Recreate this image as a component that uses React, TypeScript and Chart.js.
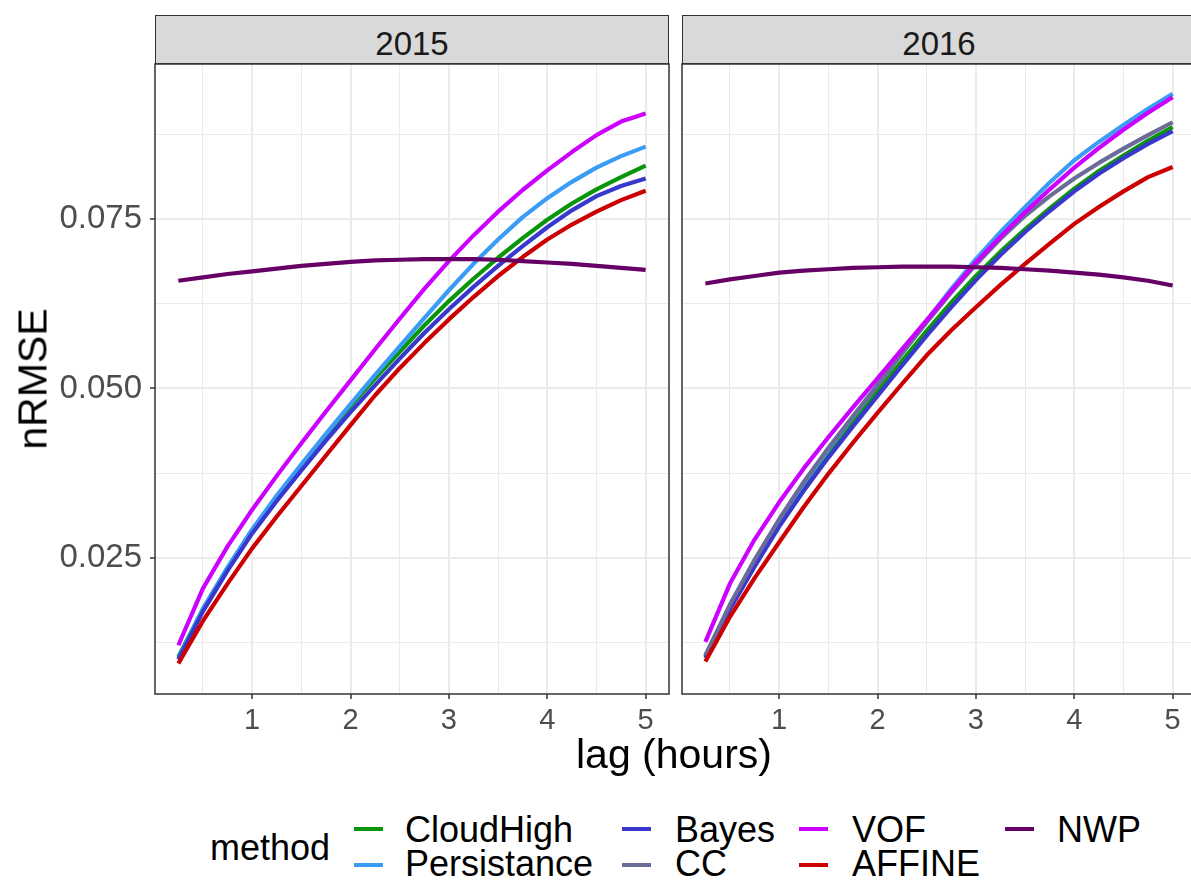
import React, { useEffect, useRef } from "react";
import { Chart, registerables } from "chart.js";

Chart.register(...registerables);

// ---------------- data ----------------
const lags = [0.25, 0.5, 0.75, 1, 1.25, 1.5, 1.75, 2, 2.25, 2.5, 2.75, 3, 3.25, 3.5, 3.75, 4, 4.25, 4.5, 4.75, 5];

const methods = ["CloudHigh", "Persistance", "Bayes", "CC", "VOF", "AFFINE", "NWP"];
const methodColors = ["#0A960A", "#3A9CF5", "#3838CC", "#6B6B99", "#CC00FF", "#CC0000", "#660066"];

const years = ["2015", "2016"];

// 2015
const cloudHigh2015 = [0.0104, 0.0174, 0.0235, 0.0290, 0.0339, 0.0385, 0.0430, 0.0474, 0.0515, 0.0554, 0.0593, 0.0629, 0.0662, 0.0693, 0.0722, 0.0749, 0.0773, 0.0794, 0.0812, 0.0829];
const persistance2015 = [0.0102, 0.0175, 0.0236, 0.0292, 0.0342, 0.0388, 0.0433, 0.0477, 0.0520, 0.0562, 0.0604, 0.0645, 0.0684, 0.0720, 0.0753, 0.0781, 0.0805, 0.0826, 0.0843, 0.0857];
const bayes2015 = [0.0100, 0.0171, 0.0231, 0.0286, 0.0334, 0.0379, 0.0423, 0.0465, 0.0505, 0.0544, 0.0582, 0.0617, 0.0650, 0.0681, 0.0710, 0.0738, 0.0763, 0.0784, 0.0799, 0.0810];
const cc2015: number[] = [];
const vof2015 = [0.0121, 0.0205, 0.0267, 0.0321, 0.0371, 0.0419, 0.0466, 0.0512, 0.0558, 0.0603, 0.0647, 0.0688, 0.0726, 0.0761, 0.0793, 0.0822, 0.0849, 0.0874, 0.0894, 0.0906];
const affine2015 = [0.0094, 0.0157, 0.0212, 0.0264, 0.0311, 0.0356, 0.0401, 0.0446, 0.0490, 0.0530, 0.0567, 0.0602, 0.0635, 0.0666, 0.0694, 0.0720, 0.0742, 0.0761, 0.0778, 0.0792];
const nwp2015 = [0.0659, 0.0664, 0.0669, 0.0673, 0.0677, 0.0681, 0.0684, 0.0687, 0.0689, 0.0690, 0.0691, 0.0691, 0.0691, 0.0690, 0.0688, 0.0686, 0.0684, 0.0681, 0.0678, 0.0675];

// 2016
const cloudHigh2016 = [0.0104, 0.0177, 0.0241, 0.0300, 0.0354, 0.0403, 0.0450, 0.0496, 0.0541, 0.0585, 0.0627, 0.0666, 0.0702, 0.0735, 0.0766, 0.0795, 0.0821, 0.0844, 0.0866, 0.0886];
const persistance2016 = [0.0106, 0.0179, 0.0244, 0.0305, 0.0360, 0.0410, 0.0458, 0.0505, 0.0552, 0.0600, 0.0647, 0.0691, 0.0731, 0.0768, 0.0804, 0.0837, 0.0864, 0.0889, 0.0913, 0.0935];
const bayes2016 = [0.0102, 0.0174, 0.0237, 0.0296, 0.0349, 0.0398, 0.0444, 0.0489, 0.0534, 0.0578, 0.0620, 0.0660, 0.0697, 0.0731, 0.0762, 0.0791, 0.0817, 0.0840, 0.0861, 0.0880];
const cc2016 = [0.0106, 0.0181, 0.0247, 0.0307, 0.0362, 0.0412, 0.0459, 0.0505, 0.0552, 0.0598, 0.0642, 0.0683, 0.0721, 0.0755, 0.0784, 0.0810, 0.0833, 0.0854, 0.0874, 0.0893];
const vof2016 = [0.0126, 0.0212, 0.0277, 0.0332, 0.0382, 0.0428, 0.0472, 0.0515, 0.0558, 0.0601, 0.0644, 0.0686, 0.0724, 0.0760, 0.0794, 0.0826, 0.0855, 0.0882, 0.0907, 0.0930];
const affine2016 = [0.0097, 0.0163, 0.0220, 0.0273, 0.0325, 0.0374, 0.0420, 0.0464, 0.0507, 0.0549, 0.0586, 0.0620, 0.0653, 0.0684, 0.0714, 0.0743, 0.0768, 0.0791, 0.0812, 0.0827];
const nwp2016 = [0.0655, 0.0661, 0.0666, 0.0671, 0.0674, 0.0676, 0.0678, 0.0679, 0.0680, 0.0680, 0.0680, 0.0679, 0.0678, 0.0676, 0.0674, 0.0671, 0.0668, 0.0664, 0.0659, 0.0652];

const series2015 = [cloudHigh2015, persistance2015, bayes2015, cc2015, vof2015, affine2015, nwp2015];
const series2016 = [cloudHigh2016, persistance2016, bayes2016, cc2016, vof2016, affine2016, nwp2016];

const xTickValues = [0.5, 1, 1.5, 2, 2.5, 3, 3.5, 4, 4.5, 5];
const yTickValues = [0.0125, 0.025, 0.0375, 0.05, 0.0625, 0.075, 0.0875];

const X_MIN = 0.0125;
const X_MAX = 5.2375;
const Y_MIN = 0.0049;
const Y_MAX = 0.0979;

// ---------------- helpers ----------------
const FONT = "'Liberation Sans', Arial, Helvetica, sans-serif";

const isMajorX = (v: any) => typeof v === "number" && Math.abs(v - Math.round(v)) < 1e-6;
const isMajorY = (v: any) =>
  typeof v === "number" && Math.abs(v / 0.025 - Math.round(v / 0.025)) < 1e-6;

const panelBorder = {
  id: "panelBorder",
  afterDraw(chart: any) {
    const { ctx, chartArea } = chart;
    ctx.save();
    ctx.strokeStyle = "#333333";
    ctx.lineWidth = 1.5;
    ctx.strokeRect(chartArea.left, chartArea.top, chartArea.right - chartArea.left, chartArea.bottom - chartArea.top);
    ctx.restore();
  },
};

type PanelProps = {
  series: number[][];
  showY: boolean;
  left: number;
  top: number;
  width: number;
  height: number;
  padLeft: number;
};

function Panel({ series, showY, left, top, width, height, padLeft }: PanelProps) {
  const ref = useRef<HTMLCanvasElement | null>(null);

  useEffect(() => {
    if (!ref.current) return;
    const datasets = methods.map((m, i) => ({
      label: m,
      data: series[i].map((v, j) => ({ x: lags[j], y: v })),
      borderColor: methodColors[i],
      backgroundColor: methodColors[i],
      borderWidth: 4.2,
      pointRadius: 0,
      tension: 0,
      fill: false,
      borderCapStyle: "butt" as const,
      borderJoinStyle: "round" as const,
      order: methods.length - i,
    }));

    const chart = new Chart(ref.current, {
      type: "line",
      data: { datasets },
      options: {
        responsive: false,
        animation: false,
        events: [],
        layout: { padding: { left: padLeft, top: 10, right: 10, bottom: 0 } },
        plugins: { legend: { display: false }, tooltip: { enabled: false } },
        scales: {
          x: {
            type: "linear",
            min: X_MIN,
            max: X_MAX,
            afterBuildTicks: (s: any) => {
              s.ticks = xTickValues.map((v) => ({ value: v }));
            },
            afterFit: (s: any) => {
              s.height = 40;
              s.paddingLeft = 0;
              s.paddingRight = 0;
            },
            ticks: {
              autoSkip: false,
              maxRotation: 0,
              minRotation: 0,
              padding: 5,
              color: "#4D4D4D",
              font: { family: FONT, size: 29 },
              callback: (v: any) => (isMajorX(v) ? String(Math.round(v)) : ""),
            },
            grid: {
              color: "#EBEBEB",
              lineWidth: (c: any) => (c.tick && isMajorX(c.tick.value) ? 2 : 1),
              tickColor: (c: any) => (c.tick && isMajorX(c.tick.value) ? "#333333" : "rgba(0,0,0,0)"),
              tickLength: 5,
              tickWidth: 1.5,
            },
            border: { display: false },
          },
          y: {
            type: "linear",
            min: Y_MIN,
            max: Y_MAX,
            afterBuildTicks: (s: any) => {
              s.ticks = yTickValues.map((v) => ({ value: v }));
            },
            afterFit: (s: any) => {
              s.width = showY ? 155 : 0;
              s.paddingTop = 0;
              s.paddingBottom = 0;
            },
            ticks: {
              display: showY,
              autoSkip: false,
              padding: 8,
              color: "#4D4D4D",
              font: { family: FONT, size: 33 },
              callback: (v: any) => (isMajorY(v) ? Number(v).toFixed(3) : ""),
            },
            grid: {
              color: "#EBEBEB",
              lineWidth: (c: any) => (c.tick && isMajorY(c.tick.value) ? 2 : 1),
              drawTicks: showY,
              tickColor: (c: any) => (c.tick && isMajorY(c.tick.value) ? "#333333" : "rgba(0,0,0,0)"),
              tickLength: 5,
              tickWidth: 1.5,
            },
            border: { display: false },
          },
        },
      },
      plugins: [panelBorder],
    });
    return () => chart.destroy();
  }, [series, showY, padLeft]);

  return (
    <canvas
      ref={ref}
      width={width}
      height={height}
      style={{ position: "absolute", left, top, width, height }}
    />
  );
}

type TxtProps = {
  x: number;
  baseline: number;
  size: number;
  color?: string;
  center?: boolean;
  children: React.ReactNode;
};

function Txt({ x, baseline, size, color = "#000", center, children }: TxtProps) {
  return (
    <div
      style={{
        position: "absolute",
        left: x,
        top: baseline - 0.8465 * size,
        fontSize: size,
        lineHeight: `${size}px`,
        fontFamily: FONT,
        color,
        whiteSpace: "nowrap",
        transform: center ? "translateX(-50%)" : undefined,
      }}
    >
      {children}
    </div>
  );
}

function Strip({ left, label }: { left: number; label: string }) {
  return (
    <div
      style={{
        position: "absolute",
        left,
        top: 15,
        width: 514,
        height: 49,
        boxSizing: "border-box",
        background: "#D9D9D9",
        border: "1.5px solid #333333",
      }}
    >
      <div
        style={{
          position: "absolute",
          left: 0,
          right: 0,
          top: 40 - 0.8465 * 33 - 1.5,
          textAlign: "center",
          fontSize: 33,
          lineHeight: "33px",
          fontFamily: FONT,
          color: "#1A1A1A",
        }}
      >
        {label}
      </div>
    </div>
  );
}

// legend layout: column x positions (key left, label left) and row centres
const legendCols = [
  { key: 354, text: 405 },
  { key: 622, text: 675 },
  { key: 799, text: 852 },
  { key: 1005, text: 1057 },
];
const legendRows = [
  { key: 828.5, base: 842 },
  { key: 865, base: 876 },
];

export default function App() {
  useEffect(() => {
    document.body.style.margin = "0";
  }, []);

  return (
    <div
      style={{
        position: "fixed",
        left: 0,
        top: 0,
        width: 1191,
        height: 882,
        overflow: "hidden",
        background: "#FFFFFF",
      }}
    >
      <Strip left={155} label={years[0]} />
      <Strip left={682} label={years[1]} />

      <Panel series={series2015} showY={true} left={0} top={54} width={679} height={680} padLeft={0} />
      <Panel series={series2016} showY={false} left={672} top={54} width={534} height={680} padLeft={10} />

      {/* y axis title */}
      <div
        style={{
          position: "absolute",
          left: 32.5,
          top: 379,
          fontSize: 41,
          lineHeight: "41px",
          fontFamily: FONT,
          color: "#000",
          whiteSpace: "nowrap",
          transform: "translate(-50%, -50%) rotate(-90deg)",
        }}
      >
        nRMSE
      </div>

      {/* x axis title */}
      <Txt x={674} baseline={769} size={41} center>
        lag (hours)
      </Txt>

      {/* legend */}
      <Txt x={210} baseline={860} size={36}>
        method
      </Txt>
      {methods.map((m, i) => {
        const col = legendCols[Math.floor(i / 2)];
        const row = legendRows[i % 2];
        return (
          <React.Fragment key={m}>
            <div
              style={{
                position: "absolute",
                left: col.key,
                top: row.key - 2,
                width: 29,
                height: 4,
                background: methodColors[i],
              }}
            />
            <Txt x={col.text} baseline={row.base} size={36}>
              {m}
            </Txt>
          </React.Fragment>
        );
      })}
    </div>
  );
}
